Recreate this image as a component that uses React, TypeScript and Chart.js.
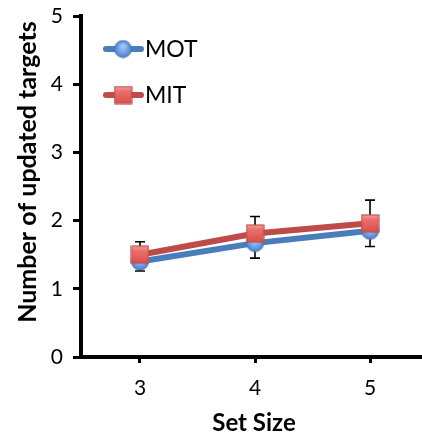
import React, { useEffect, useRef } from "react";
import { Chart, registerables } from "chart.js";

Chart.register(...registerables);

const setSizes = [3, 4, 5];
const motValues = [1.4, 1.67, 1.85];
const motErrors = [0.14, 0.22, 0.23];
const mitValues = [1.5, 1.81, 1.96];
const mitErrors = [0.19, 0.25, 0.34];
const yTicks = [0, 1, 2, 3, 4, 5];
const seriesNames = ["MOT", "MIT"];
const yTitle = "Number of updated targets";
const xTitle = "Set Size";

const FONT = "Lato, 'Open Sans', sans-serif";
const BLUE_LINE = "#4a7ebb";
const RED_LINE = "#be4b48";

function makeCircle(r: number): HTMLCanvasElement {
  const s = Math.ceil(r * 2 + 2);
  const c = document.createElement("canvas");
  c.width = s;
  c.height = s;
  const ctx = c.getContext("2d")!;
  const g = ctx.createRadialGradient(s / 2, s / 2 - r * 0.35, r * 0.1, s / 2, s / 2, r);
  g.addColorStop(0, "#a8c8f2");
  g.addColorStop(0.6, "#6f9fe3");
  g.addColorStop(1, "#4c7fc9");
  ctx.beginPath();
  ctx.arc(s / 2, s / 2, r, 0, Math.PI * 2);
  ctx.fillStyle = g;
  ctx.fill();
  ctx.lineWidth = 1;
  ctx.strokeStyle = "#4474b5";
  ctx.stroke();
  return c;
}

function makeSquare(size: number): HTMLCanvasElement {
  const s = Math.ceil(size + 2);
  const c = document.createElement("canvas");
  c.width = s;
  c.height = s;
  const ctx = c.getContext("2d")!;
  const o = (s - size) / 2;
  const g = ctx.createLinearGradient(0, o, 0, o + size);
  g.addColorStop(0, "#f5a3a1");
  g.addColorStop(0.25, "#ec716e");
  g.addColorStop(1, "#d94f4b");
  ctx.fillStyle = g;
  ctx.fillRect(o, o, size, size);
  ctx.lineWidth = 1.2;
  ctx.strokeStyle = "#c0504d";
  ctx.strokeRect(o, o, size, size);
  return c;
}

export default function App() {
  const ref = useRef<HTMLCanvasElement | null>(null);

  useEffect(() => {
    document.body.style.margin = "0";
    const canvas = ref.current;
    if (!canvas) return;
    const circle = makeCircle(8.5);
    const square = makeSquare(17);

    const errorBars = {
      id: "errorBars",
      beforeDatasetsDraw(chart: any) {
        const ctx = chart.ctx;
        const xs = chart.scales.x;
        const ys = chart.scales.y;
        ctx.save();
        ctx.strokeStyle = "#000";
        ctx.lineWidth = 1.6;
        const draw = (vals: number[], errs: number[], dir: number) => {
          vals.forEach((v, i) => {
            const x = xs.getPixelForValue(setSizes[i]);
            const y0 = ys.getPixelForValue(v);
            const y1 = ys.getPixelForValue(v + dir * errs[i]);
            ctx.beginPath();
            ctx.moveTo(x, y0);
            ctx.lineTo(x, y1);
            ctx.moveTo(x - 5, y1);
            ctx.lineTo(x + 5, y1);
            ctx.stroke();
          });
        };
        draw(motValues, motErrors, -1);
        draw(mitValues, mitErrors, 1);
        ctx.restore();
      },
    };

    const decorations = {
      id: "decorations",
      afterDraw(chart: any) {
        const ctx = chart.ctx;
        ctx.save();
        const items = [
          { y: 49, color: BLUE_LINE, img: circle, name: seriesNames[0] },
          { y: 95, color: RED_LINE, img: square, name: seriesNames[1] },
        ];
        items.forEach((it) => {
          ctx.beginPath();
          ctx.lineCap = "round";
          ctx.lineWidth = 6;
          ctx.strokeStyle = it.color;
          ctx.moveTo(106, it.y);
          ctx.lineTo(141, it.y);
          ctx.stroke();
          ctx.drawImage(it.img, 123 - it.img.width / 2, it.y - it.img.height / 2);
          ctx.fillStyle = "#000";
          ctx.font = `23px ${FONT}`;
          ctx.textAlign = "left";
          ctx.textBaseline = "middle";
          ctx.fillText(it.name, 145, it.y + 1);
        });
        ctx.fillStyle = "#000";
        ctx.font = `bold 24px ${FONT}`;
        ctx.textAlign = "center";
        ctx.textBaseline = "middle";
        ctx.fillText(xTitle, 254, 423);
        ctx.font = `bold 25px ${FONT}`;
        ctx.translate(28, 172);
        ctx.rotate(-Math.PI / 2);
        ctx.fillText(yTitle, 0, 0);
        ctx.restore();
      },
    };

    const chart = new Chart(canvas, {
      type: "line",
      data: {
        datasets: [
          {
            label: seriesNames[0],
            data: setSizes.map((s, i) => ({ x: s, y: motValues[i] })),
            borderColor: BLUE_LINE,
            borderWidth: 6,
            pointStyle: circle as any,
            pointRadius: 9,
            order: 1,
          },
          {
            label: seriesNames[1],
            data: setSizes.map((s, i) => ({ x: s, y: mitValues[i] })),
            borderColor: RED_LINE,
            borderWidth: 6,
            pointStyle: square as any,
            pointRadius: 9,
            order: 0,
          },
        ],
      },
      options: {
        responsive: false,
        animation: false,
        layout: { autoPadding: false, padding: { top: 16, right: 0, left: 0, bottom: 0 } },
        plugins: { legend: { display: false }, tooltip: { enabled: false } },
        scales: {
          x: {
            type: "linear",
            min: 2.487,
            max: 5.452,
            afterFit: (s: any) => {
              s.height = 77;
              s.paddingLeft = 0;
              s.paddingRight = 0;
            },
            afterBuildTicks: (s: any) => {
              s.ticks = setSizes.map((v) => ({ value: v }));
            },
            border: { display: true, color: "#000", width: 4 },
            grid: {
              display: true,
              drawOnChartArea: false,
              drawTicks: true,
              tickLength: 6,
              tickWidth: 3,
              tickColor: "#000",
            },
            ticks: {
              color: "#000",
              font: { size: 21, family: FONT },
              padding: 13,
              maxRotation: 0,
            },
          },
          y: {
            min: 0,
            max: 5,
            afterFit: (s: any) => {
              s.width = 81;
              s.paddingTop = 0;
              s.paddingBottom = 0;
            },
            afterBuildTicks: (s: any) => {
              s.ticks = yTicks.map((v) => ({ value: v }));
            },
            border: { display: true, color: "#000", width: 4 },
            grid: {
              display: true,
              drawOnChartArea: false,
              drawTicks: true,
              tickLength: 8,
              tickWidth: 3,
              tickColor: "#000",
            },
            ticks: {
              color: "#000",
              font: { size: 21, family: FONT },
              padding: 10,
            },
          },
        },
      },
      plugins: [errorBars, decorations],
    } as any);
    return () => chart.destroy();
  }, []);

  return (
    <div style={{ position: "fixed", left: 0, top: 0, width: 422, height: 434, background: "#fff" }}>
      <canvas ref={ref} width={422} height={434} />
    </div>
  );
}
